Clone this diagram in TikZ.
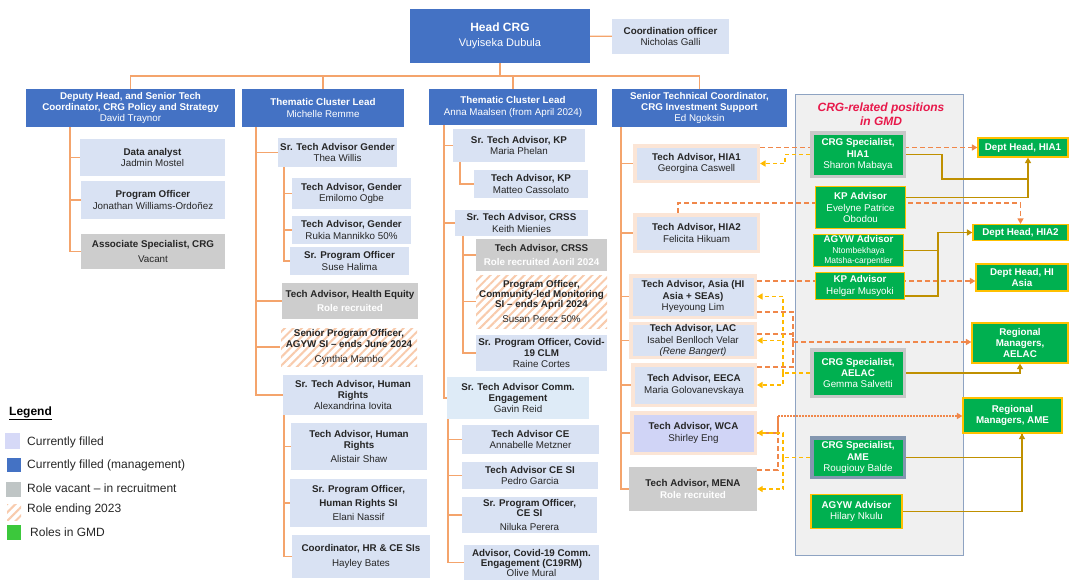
\documentclass[tikz,border=0pt]{standalone}
\usepackage{fontspec}
\setmainfont{Liberation Sans}
\usetikzlibrary{arrows.meta,patterns.meta}

\definecolor{mgmtblue}{HTML}{4472C4}
\definecolor{fillblue}{HTML}{D9E2F3}
\definecolor{ceblue}{HTML}{DEEBF7}
\definecolor{lavender}{HTML}{D0D4F6}
\definecolor{vacantgray}{HTML}{CDCDCD}
\definecolor{peach}{HTML}{FBE5D6}
\definecolor{hatch}{HTML}{F8CBAD}
\definecolor{gmdgreen}{HTML}{00B050}
\definecolor{gmdgold}{HTML}{FFC000}
\definecolor{specgray}{HTML}{C8C8C8}
\definecolor{specblue}{HTML}{8497B0}
\definecolor{panelgray}{HTML}{F0F0F0}
\definecolor{panelrim}{HTML}{8EA3C2}
\definecolor{gmdred}{HTML}{E8194B}
\definecolor{treeline}{HTML}{F4A46C}
\definecolor{linkorange}{HTML}{F0874A}
\definecolor{linkyellow}{HTML}{FFBA00}
\definecolor{linkgold}{HTML}{BF9000}
\definecolor{txt}{HTML}{262626}
\definecolor{legblue}{HTML}{D6D9F7}
\definecolor{leggray}{HTML}{BFC5C5}
\definecolor{leggreen}{HTML}{3CC83C}

\pgfdeclarelayer{panel}
\pgfdeclarelayer{wires}
\pgfsetlayers{panel,wires,main}

\begin{document}
\begin{tikzpicture}[x=1pt,y=-1pt,
    box/.style={align=center,inner sep=1pt,text=txt,font=\fontsize{9.8}{11.3}\selectfont},
    sz/.style 2 args={minimum width=#1,minimum height=#2},
    mgmt/.style={box,fill=mgmtblue,text=white},
    filled/.style={box,fill=fillblue},
    vacant/.style={box,fill=vacantgray},
    ending/.style={box,pattern={Lines[angle=45,distance=6pt,line width=2pt]},pattern color=hatch},
    advisor/.style={box,fill=fillblue,draw=peach,line width=3.5pt},
    gmdrole/.style={box,fill=gmdgreen,text=white,draw=gmdgold,line width=1.2pt},
    gmdspec/.style={gmdrole,draw=specgray,line width=3.5pt},
    swatch/.style={inner sep=0pt},
    legtext/.style={anchor=west,inner sep=0pt,text=txt,font=\fontsize{12}{14}\selectfont},
    orgline/.style={draw=treeline,line width=1.3pt},
    linkarrow/.style={-{Triangle[length=5.5pt,width=6pt]}},
    odash/.style={draw=linkorange,line width=1.7pt,dash pattern=on 5pt off 3pt},
    ddot/.style={draw=linkorange,line width=1.5pt,dash pattern=on 2pt off 1pt},
    ydash/.style={draw=linkyellow,line width=1.7pt,dash pattern=on 4pt off 3pt},
    goldline/.style={draw=linkgold,line width=1.6pt}]

  \useasboundingbox (0,0) rectangle (1071,579);
  \clip (0,0) rectangle (1071,579);

  % top of the chart
  \node[mgmt,sz={180}{54}] (head) at (500,36)
    {{\fontsize{12}{14}\selectfont\bfseries Head CRG}\\[4pt]{\fontsize{11}{13}\selectfont Vuyiseka Dubula}};
  \node[filled,sz={117}{35}] (coord) at (670.5,36.5) {\textbf{Coordination officer}\\Nicholas Galli};
  \node[mgmt,sz={209}{38}] (dep) at (130.5,108)
    {\textbf{Deputy Head, and Senior Tech}\\\textbf{Coordinator, CRG Policy and Strategy}\\David Traynor};
  \node[mgmt,sz={162}{38}] (tc1) at (323,108) {\textbf{Thematic Cluster Lead}\\Michelle Remme};
  \node[mgmt,sz={168}{36}] (tc2) at (513,107) {\textbf{Thematic Cluster Lead}\\Anna Maalsen (from April 2024)};
  \node[mgmt,sz={175}{38}] (stc) at (699.5,108)
    {\textbf{Senior Technical Coordinator,}\\\textbf{CRG Investment Support}\\Ed Ngoksin};

  % deputy head team
  \node[filled,sz={145}{37}] (da) at (152.5,157.5) {\textbf{Data analyst}\\Jadmin Mostel};
  \node[filled,sz={144}{38}] (po) at (153,200) {\textbf{Program Officer}\\Jonathan Williams-Ordoñez};
  \node[vacant,sz={144}{35}] (assoc) at (153,251.5) {\textbf{Associate Specialist, CRG}\\[3pt]Vacant};

  % first thematic cluster
  \node[filled,sz={119}{29}] (stag) at (337.5,152.5) {\textbf{Sr. Tech Advisor Gender}\\Thea Willis};
  \node[filled,sz={119}{31}] (tag1) at (351.5,193.5) {\textbf{Tech Advisor, Gender}\\Emilomo Ogbe};
  \node[filled,sz={119}{28}] (tag2) at (351.5,230) {\textbf{Tech Advisor, Gender}\\Rukia Mannikko 50\%};
  \node[filled,sz={119}{28}] (spo) at (349.5,261) {\textbf{Sr. Program Officer}\\Suse Halima};
  \node[vacant,sz={136}{36}] (the) at (350,301)
    {\textbf{Tech Advisor, Health Equity}\\[3pt]{\color{white}\textbf{Role recruited}}};
  \node[ending,sz={136}{38}] (agyw) at (349,347)
    {\textbf{Senior Program Officer,}\\[-1pt]\textbf{AGYW SI – ends June 2024}\\[3.5pt]Cynthia Mambo};
  \node[filled,sz={140}{40}] (strh) at (353,395) {\textbf{Sr. Tech Advisor, Human}\\\textbf{Rights}\\Alexandrina Iovita};
  \node[filled,sz={136}{47}] (tahr) at (359,446.5) {\textbf{Tech Advisor, Human}\\\textbf{Rights}\\[3pt]Alistair Shaw};
  \node[filled,sz={137}{48}] (spohr) at (358.5,503)
    {\textbf{Sr. Program Officer,}\\[3pt]\textbf{Human Rights SI}\\[3pt]Elani Nassif};
  \node[filled,sz={138}{43}] (hrce) at (361,556.5) {\textbf{Coordinator, HR \& CE SIs}\\[3pt]Hayley Bates};

  % second thematic cluster
  \node[filled,sz={132}{33}] (stkp) at (519,145.5) {\textbf{Sr. Tech Advisor, KP}\\Maria Phelan};
  \node[filled,sz={114}{28}] (takp) at (531,184) {\textbf{Tech Advisor, KP}\\Matteo Cassolato};
  \node[filled,sz={133}{26}] (stcrss) at (521.5,223) {\textbf{Sr. Tech Advisor, CRSS}\\Keith Mienies};
  \node[vacant,sz={131}{32}] (tacrss) at (541.5,255)
    {\textbf{Tech Advisor, CRSS}\\[3pt]{\color{white}\textbf{Role recruited Aoril 2024}}};
  \node[ending,sz={131}{53}] (clm) at (541.5,301.5)
    {\textbf{Program Officer,}\\[-1pt]\textbf{Community-led Monitoring}\\[-1pt]\textbf{SI – ends April 2024}\\[3.5pt]Susan Perez 50\%};
  \node[filled,sz={131}{36}] (covid) at (541.5,353) {\textbf{Sr. Program Officer, Covid-}\\\textbf{19 CLM}\\Raine Cortes};
  \node[box,fill=ceblue,sz={142}{42}] (stce) at (518,398) {\textbf{Sr. Tech Advisor Comm.}\\\textbf{Engagement}\\Gavin Reid};
  \node[filled,sz={137}{29}] (ce) at (530.5,439.5) {\textbf{Tech Advisor CE}\\Annabelle Metzner};
  \node[filled,sz={136}{27}] (cesi) at (530,475.5) {\textbf{Tech Advisor CE SI}\\Pedro Garcia};
  \node[filled,sz={135}{36}] (spoce) at (529.5,515) {\textbf{Sr. Program Officer,}\\[-1pt]\textbf{CE SI}\\[3pt]Niluka Perera};
  \node[filled,sz={135}{35},anchor=north] (c19) at (531.5,545)
    {\textbf{Advisor, Covid-19 Comm.}\\[-1.5pt]\textbf{Engagement (C19RM)}\\[-1.5pt]Olive Mural};

  % investment support team
  \node[advisor,sz={123.5}{35.5}] (hia1) at (696.5,163.5) {\textbf{Tech Advisor, HIA1}\\Georgina Caswell};
  \node[advisor,sz={123.5}{36.5}] (hia2) at (696.5,233) {\textbf{Tech Advisor, HIA2}\\Felicita Hikuam};
  \node[advisor,sz={124.5}{41.5}] (asia) at (693,296.5) {\textbf{Tech Advisor, Asia (HI}\\\textbf{Asia + SEAs)}\\Hyeyoung Lim};
  \node[advisor,sz={124.5}{33.5}] (lac) at (693,340.5) {\textbf{Tech Advisor, LAC}\\Isabel Benlloch Velar\\\textit{(Rene Bangert)}};
  \node[advisor,sz={122.5}{40.5}] (eeca) at (694,385) {\textbf{Tech Advisor, EECA}\\Maria Golovanevskaya};
  \node[advisor,fill=lavender,sz={123.5}{40.5}] (wca) at (693.5,433) {\textbf{Tech Advisor, WCA}\\Shirley Eng};
  \node[vacant,sz={128}{44}] (mena) at (693,489) {\textbf{Tech Advisor, MENA}\\{\color{white}\textbf{Role recruited}}};

  % GMD positions
  \begin{pgfonlayer}{panel}
    \node[fill=panelgray,draw=panelrim,line width=1pt,sz={168}{461}] (panel) at (879,324.5) {};
  \end{pgfonlayer}
  \node[align=center,inner sep=0pt,text=gmdred,font=\bfseries\itshape\fontsize{12}{14.5}\selectfont] (gmdtitle) at (881,114)
    {CRG-related positions\\in GMD};
  \node[gmdspec,sz={92.5}{43.5}] (sharon) at (858,154.5) {\textbf{CRG Specialist,}\\\textbf{HIA1}\\Sharon Mabaya};
  \node[gmdrole,sz={90}{42}] (evelyne) at (860.5,207.5) {\textbf{KP Advisor}\\Evelyne Patrice\\Obodou};
  \node[gmdrole,sz={90}{32}] (agywn) at (858.5,250.5)
    {\textbf{AGYW Advisor}\\[-0.5pt]{\fontsize{8.5}{9.5}\selectfont Ntombekhaya}\\[-1.5pt]{\fontsize{8.5}{9.5}\selectfont Matsha-carpentier}};
  \node[gmdrole,sz={89}{27}] (helgar) at (860,286) {\textbf{KP Advisor}\\Helgar Musyoki};
  \node[gmdspec,sz={92.5}{46.5}] (gemma) at (858,373) {\textbf{CRG Specialist,}\\\textbf{AELAC}\\Gemma Salvetti};
  \node[gmdspec,draw=specblue,sz={92.5}{39.5}] (rougiouy) at (858,457.5) {\textbf{CRG Specialist,}\\\textbf{AME}\\Rougiouy Balde};
  \node[gmdrole,sz={91}{34}] (hilary) at (856.5,511.5) {\textbf{AGYW Advisor}\\Hilary Nkulu};

  % GMD managers
  \node[gmdrole,sz={90}{19}] (dhia1) at (1023,147.5) {\textbf{Dept Head, HIA1}};
  \node[gmdrole,sz={95}{16}] (dhia2) at (1020.5,232.5) {\textbf{Dept Head, HIA2}};
  \node[gmdrole,sz={92}{27}] (dhasia) at (1022,277.5) {\textbf{Dept Head, HI}\\\textbf{Asia}};
  \node[gmdrole,sz={96}{40}] (ragelac) at (1020,343) {\textbf{Regional}\\\textbf{Managers,}\\\textbf{AELAC}};
  \node[gmdrole,sz={99}{35}] (rame) at (1012.5,415.5) {\textbf{Regional}\\\textbf{Managers, AME}};

  % legend
  \node[anchor=west,inner sep=0pt,text=black,font=\bfseries\fontsize{12}{14}\selectfont] (legend) at (9,413) {\underline{Legend}};
  \node[swatch,fill=legblue,sz={15}{16}] (sw1) at (12.5,441) {};
  \node[swatch,fill=mgmtblue,sz={14}{14}] (sw2) at (14,465) {};
  \node[swatch,fill=leggray,sz={15}{15}] (sw3) at (13.5,489.5) {};
  \node[swatch,pattern={Lines[angle=45,distance=6pt,line width=2pt]},pattern color=hatch,sz={14}{16}] (sw4) at (14,512) {};
  \node[swatch,fill=leggreen,sz={14}{15}] (sw5) at (14,532.5) {};
  \node[legtext] (lt1) at (27,442) {Currently filled};
  \node[legtext] (lt2) at (27,465) {Currently filled (management)};
  \node[legtext] (lt3) at (27,488) {Role vacant – in recruitment};
  \node[legtext] (lt4) at (27,509) {Role ending 2023};
  \node[legtext] (lt5) at (30,532) {Roles in GMD};

  \begin{pgfonlayer}{wires}
    % reporting lines
    \coordinate (bar) at (0,76);
    \coordinate (tD) at (70,0);
    \coordinate (tA) at (256,0);
    \coordinate (tG) at (284,0);
    \coordinate (tB) at (444,0);
    \coordinate (tK) at (460,0);
    \coordinate (tC) at (463,0);
    \coordinate (tE) at (448,0);
    \coordinate (tS) at (621,0);
    \draw[orgline] (head) -- (coord);
    \draw[orgline] (head) -- (head.south |- bar);
    \draw[orgline] (dep.north) -- (dep.north |- bar) -- (stc.north |- bar) -- (stc.north);
    \draw[orgline] (tc1.north |- bar) -- (tc1.north);
    \draw[orgline] (tc2.north |- bar) -- (tc2.north);
    \draw[orgline] (dep.south -| tD) |- (da) (dep.south -| tD) |- (po) (dep.south -| tD) |- (assoc);
    \draw[orgline] (tc1.south -| tA) |- (stag) (tc1.south -| tA) |- (the)
                   (tc1.south -| tA) |- (agyw) (tc1.south -| tA) |- (strh);
    \draw[orgline] (stag.south -| tG) |- (tag1) (stag.south -| tG) |- (tag2) (stag.south -| tG) |- (spo);
    \draw[orgline] (strh.south -| tG) |- (tahr) (strh.south -| tG) |- (spohr) (strh.south -| tG) |- (hrce);
    \draw[orgline] (tc2.south -| tB) |- (stkp) (tc2.south -| tB) |- (stcrss) (tc2.south -| tB) |- (stce);
    \draw[orgline] (stkp.south -| tK) |- (takp);
    \draw[orgline] (stcrss.south -| tC) |- (tacrss) (stcrss.south -| tC) |- (clm) (stcrss.south -| tC) |- (covid);
    \draw[orgline] (stce.south -| tE) |- (ce) (stce.south -| tE) |- (cesi)
                   (stce.south -| tE) |- (spoce) (stce.south -| tE) |- (c19);
    \draw[orgline] (stc.south -| tS) |- (hia1) (stc.south -| tS) |- (hia2) (stc.south -| tS) |- (asia)
                   (stc.south -| tS) |- (lac) (stc.south -| tS) |- (eeca) (stc.south -| tS) |- (wca)
                   (stc.south -| tS) |- (mena);

    % dotted-line links to GMD managers
    \coordinate (aA) at ([yshift=-7pt]asia.north east);
    \coordinate (jL) at (793,342);
    \coordinate (jM) at (778,416);
    \draw[odash,linkarrow] (hia1.east |- dhia1.west) -- (dhia1.west);
    \draw[odash,linkarrow] ([xshift=-18.5pt]hia2.north) -- ++(0,-10) -| (dhia2.north);
    \draw[odash,linkarrow] (aA) -- (aA -| dhasia.west);
    \draw[odash] ([yshift=7pt]asia.south east) -| (jL);
    \draw[odash] ([yshift=-12pt]lac.north east) -| (jL);
    \draw[odash] ([yshift=-4pt]eeca.north east) -| (jL);
    \draw[odash,linkarrow] (jL) -- (jL -| ragelac.west);
    \draw[odash] (wca.east) -| (jM);
    \draw[odash] ([yshift=-3pt]mena.north east) -| (jM);
    \draw[ddot,linkarrow] (jM) -- (jM -| rame.west);

    % links from GMD specialists
    \coordinate (yL) at (783,373);
    \coordinate (yM) at (783,457.5);
    \draw[ydash,linkarrow] (sharon.west) -- ++(-25,0) |- (hia1.east);
    \draw[ydash] (gemma) -- (yL);
    \draw[ydash,linkarrow] (yL) |- (asia.east);
    \draw[ydash,linkarrow] (yL) |- (lac.east);
    \draw[ydash,linkarrow] (yL) |- (eeca.east);
    \draw[ydash] (rougiouy) -- (yM);
    \draw[ydash,linkarrow] (yM) |- (wca.east);
    \draw[ydash,linkarrow] (yM) |- (mena.east);

    % GMD reporting lines
    \coordinate (gA) at (1028,179);
    \coordinate (gB) at (938,232.5);
    \draw[goldline] (sharon.east) -- ++(36,0) |- (gA);
    \draw[goldline,linkarrow] ([yshift=10pt]evelyne.east) -| ([xshift=5pt]dhia1.south);
    \draw[goldline] (agywn.east) -| (gB);
    \draw[goldline,linkarrow] ([yshift=4pt]helgar.south east) -| (gB) -- (dhia2.west);
    \draw[goldline,linkarrow] (gemma.east) -| (ragelac.south);
    \draw[goldline] (rougiouy.east) -| ([xshift=9.5pt]rame.south);
    \draw[goldline,linkarrow] (hilary.east) -| ([xshift=9.5pt]rame.south);
  \end{pgfonlayer}

\end{tikzpicture}
\end{document}
